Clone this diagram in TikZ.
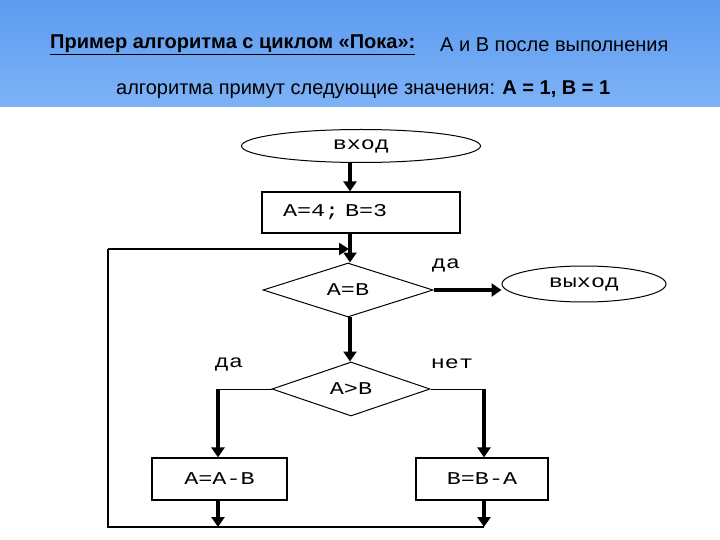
\documentclass[tikz,border=0pt]{standalone}
\usepackage{fontspec}
\setmainfont{Liberation Sans}
\newfontfamily\chartfont[FakeStretch=1.3]{Liberation Mono}
\usetikzlibrary{shapes.geometric,arrows.meta}
\definecolor{bandtop}{HTML}{5C9BEF}
\definecolor{bandbot}{HTML}{7DB2F6}
\tikzset{
  base/.style={draw=black, line width=1pt, font=\chartfont\fontsize{18}{18}\selectfont, inner sep=0pt},
  term/.style={base, ellipse},
  procbox/.style={base, rectangle, line width=1.2pt},
  decision/.style={base, diamond},
  flow/.style={line width=3.5pt, -{Triangle[length=10pt,width=13pt]}},
  thinline/.style={line width=1pt},
  loopline/.style={line width=2.5pt},
  lbl/.style={font=\chartfont\fontsize{18}{18}\selectfont, inner sep=0pt},
  title/.style={anchor=west, inner sep=0pt, font=\fontsize{20}{20}\selectfont}
}
\begin{document}
\begin{tikzpicture}[x=1pt,y=-1pt]
\useasboundingbox (0,0) rectangle (720,540);
\shade[top color=bandtop, bottom color=bandbot] (0,0) rectangle (720,107);
\node[title] (t1) at (50,45) {\textbf{\underline{Пример алгоритма с циклом «Пока»:}}};
\node[title] (t2) at (440,45) {А и В после выполнения};
\node[title] (t3) at (116,90) {алгоритма примут следующие значения: \textbf{А = 1, В = 1}};

\coordinate (axis) at (350,0);
\node[term, minimum width=239pt, minimum height=33pt] (in) at (361,146) {вход};
\node[procbox, minimum width=198pt, minimum height=41pt, text width=156pt, inner xsep=21pt, align=left] (init) at (361,212.5) {А=4; В=3};
\node[decision, minimum width=170pt, minimum height=53pt] (d1) at (348,290) {А=В};
\node[term, minimum width=164pt, minimum height=36pt] (out) at (584,284) {выход};
\node[decision, minimum width=158pt, minimum height=54pt] (d2) at (351,389) {А>В};
\node[procbox, minimum width=135pt, minimum height=42pt] (b1) at (219.5,479) {А=А-В};
\node[procbox, minimum width=132pt, minimum height=42pt] (b2) at (482,479) {В=В-А};

\node[lbl] (yes1) at (446,265) {да};
\node[lbl] (yes2) at (229,364) {да};
\node[lbl] (no2) at (452,364) {нет};

\coordinate (lt) at (218,389);
\coordinate (rt) at (484,389);
\coordinate (lb) at (218,527);
\coordinate (rb) at (484,527);
\coordinate (cl) at (108,527);
\coordinate (ct) at (108,249);
\coordinate (cm) at (349,249);

\draw[flow] (in.south -| axis) -- (init.north -| axis);
\draw[flow] (init.south -| axis) -- (d1.north -| axis);
\draw[flow] (d1.east) -- (d1.east -| out.west);
\draw[flow] (d1.south -| axis) -- (d2.north -| axis);
\draw[thinline] (d2.west) -- (lt);
\draw[thinline] (d2.east) -- (rt);
\draw[flow] (lt) -- (lt |- b1.north);
\draw[flow] (rt) -- (rt |- b2.north);
\draw[flow] (lt |- b1.south) -- (lb);
\draw[flow] (rt |- b2.south) -- (rb);
\draw[loopline] (rb) -- (cl) -- (ct);
\draw[loopline, -{Triangle[length=10pt,width=12pt]}] (ct) -- (cm);
\end{tikzpicture}
\end{document}
